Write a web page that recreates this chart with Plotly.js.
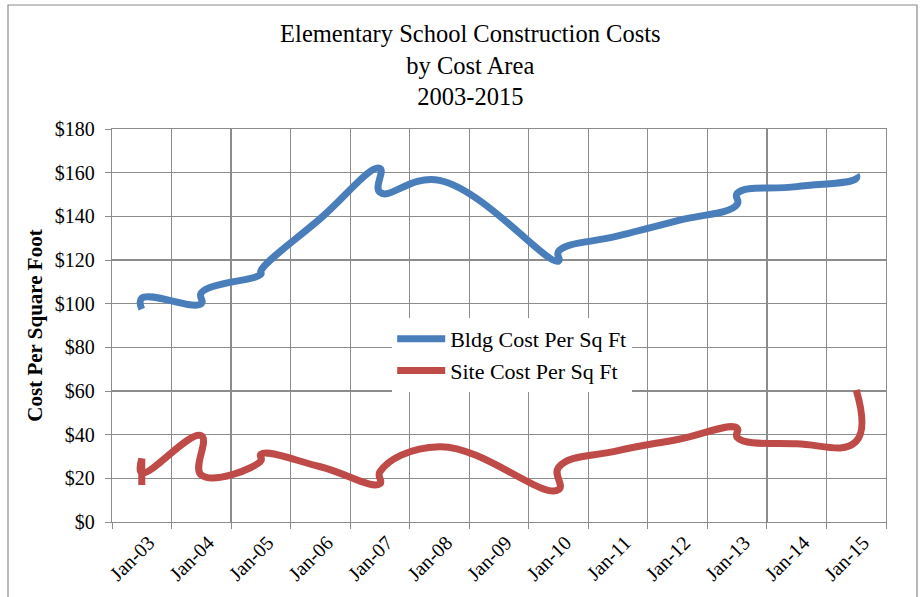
<!DOCTYPE html>
<html>
<head>
<meta charset="utf-8">
<script src="https://cdn.plot.ly/plotly-3.0.1.min.js"></script>
<style>
  html, body { margin: 0; padding: 0; background: #ffffff; }
  #chart { width: 924px; height: 597px; }
</style>
</head>
<body>
<div id="chart"></div>
<script>
// Year categories shown on the axis
const yearLabels = ["Jan-03","Jan-04","Jan-05","Jan-06","Jan-07","Jan-08","Jan-09","Jan-10","Jan-11","Jan-12","Jan-13","Jan-14","Jan-15"];

// Building cost series (several readings fall in the same year bucket)
const bldgYears  = ["Jan-03","Jan-03","Jan-04","Jan-04","Jan-05","Jan-05","Jan-06","Jan-07","Jan-07","Jan-08","Jan-10","Jan-10","Jan-11","Jan-12","Jan-13","Jan-13","Jan-14","Jan-15","Jan-15"];
const bldgValues = [97.5, 102.5, 100, 105, 113.5, 115, 139, 162, 151, 156.5, 119.5, 124, 131, 138, 145.5, 150.5, 153.6, 157.4, 159];

// Site cost series
const siteYears  = ["Jan-03","Jan-03","Jan-03","Jan-04","Jan-04","Jan-05","Jan-05","Jan-06","Jan-07","Jan-07","Jan-08","Jan-10","Jan-10","Jan-11","Jan-12","Jan-13","Jan-13","Jan-14","Jan-15","Jan-15"];
const siteValues = [17, 29, 22.5, 39.5, 21.5, 28, 31, 25.3, 17.5, 23, 34.5, 14.8, 25, 32.7, 37.8, 43, 38.8, 35.8, 37, 60.5];

const serif = "Liberation Serif, Times New Roman, serif";
const gridColor = "#8c8c8c";

const traces = [
  {
    type: "scatter", mode: "lines",
    name: "Bldg Cost Per Sq Ft",
    x: bldgYears, y: bldgValues,
    line: { color: "#4a7ebb", width: 7, shape: "spline", smoothing: 1.3, simplify: false },
    hoverinfo: "x+y"
  },
  {
    type: "scatter", mode: "lines",
    name: "Site Cost Per Sq Ft",
    x: siteYears, y: siteValues,
    line: { color: "#be4b48", width: 7, shape: "spline", smoothing: 1.3, simplify: false },
    hoverinfo: "x+y"
  }
];

const layout = {
  width: 924, height: 597,
  paper_bgcolor: "#ffffff", plot_bgcolor: "#ffffff",
  margin: { l: 112, r: 38, t: 129, b: 75 },
  font: { family: serif, color: "#000000", size: 20 },
  title: {
    text: "Elementary School Construction Costs<br>by Cost Area<br>2003-2015",
    font: { family: serif, size: 24.5, color: "#000000" },
    xref: "container", x: 0.509, xanchor: "center",
    yref: "container", y: 0.93, yanchor: "top"
  },
  xaxis: {
    type: "category",
    categoryorder: "array", categoryarray: yearLabels,
    range: [-0.5, yearLabels.length - 0.5],
    tickson: "boundaries",
    ticks: "outside", ticklen: 6, tickcolor: gridColor, tickwidth: 1,
    tickangle: -45,
    ticklabelshift: 7,
    tickfont: { family: serif, size: 20, color: "#000000" },
    showgrid: true, gridcolor: gridColor, gridwidth: 1.2,
    showline: true, linecolor: gridColor, linewidth: 1.2, mirror: true,
    zeroline: false, fixedrange: true
  },
  yaxis: {
    range: [0, 180],
    tickmode: "linear", tick0: 0, dtick: 20,
    tickprefix: "$", showtickprefix: "all",
    ticks: "outside", ticklen: 6, tickcolor: gridColor, tickwidth: 1,
    ticklabelstandoff: 6,
    tickfont: { family: serif, size: 20, color: "#000000" },
    showgrid: true, gridcolor: gridColor, gridwidth: 1.2,
    showline: true, linecolor: gridColor, linewidth: 1.2, mirror: true,
    zeroline: false, fixedrange: true,
    title: { text: "<b>Cost Per Square Foot</b>", font: { family: serif, size: 21, color: "#000000" }, standoff: 6 }
  },
  legend: {
    x: 0.362, y: 0.519, xanchor: "left", yanchor: "top",
    bgcolor: "#ffffff", borderwidth: 0,
    font: { family: serif, size: 22, color: "#000000" },
    itemwidth: 48
  },
  showlegend: true,
  shapes: [
    {
      type: "rect", xref: "paper", yref: "paper",
      x0: (8 - 112) / 774, x1: (917 - 112) / 774,
      y0: (522 - 610) / 393, y1: (522 - 5) / 393,
      line: { color: "#8c8c8c", width: 1.2 }, fillcolor: "rgba(0,0,0,0)", layer: "below"
    }
  ]
};

Plotly.newPlot("chart", traces, layout, { staticPlot: true, displayModeBar: false });
</script>
</body>
</html>
